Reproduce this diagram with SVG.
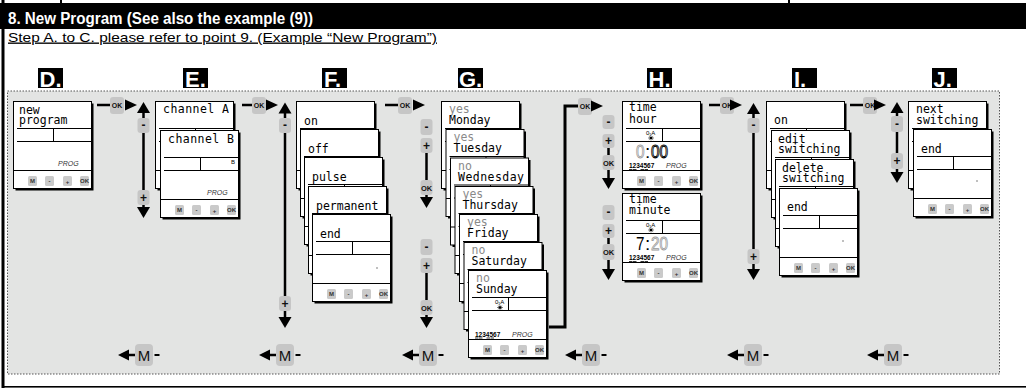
<svg xmlns="http://www.w3.org/2000/svg" xmlns:xlink="http://www.w3.org/1999/xlink" width="1026" height="388" viewBox="0 0 1026 388">
<style>
.lcd{font-family:"DejaVu Sans Mono",monospace;font-size:11.5px;fill:#000}
.gr{fill:#8a8a8a}
.ln{stroke:#000;stroke-width:1;fill:none}
.fb{fill:#c6c6c6}
.fbt{font-family:"Liberation Sans",Arial,sans-serif;font-weight:bold;text-anchor:middle;fill:#111}
.cb{fill:#cacaca}
.cbt{font-family:"Liberation Sans",Arial,sans-serif;font-size:6px;font-weight:bold;text-anchor:middle;fill:#333}
.w{stroke:#000;stroke-width:2.5;fill:none}
.prog{font-family:"Liberation Sans",Arial,sans-serif;font-style:italic;font-size:7px;fill:#333}
.lbl{font-family:"Liberation Sans",Arial,sans-serif;font-weight:bold;font-size:22px;fill:#fff}
.days{font-family:"Liberation Sans",Arial,sans-serif;font-size:6.5px;font-weight:bold;fill:#000}
.ico{font-family:"Liberation Sans","DejaVu Sans",sans-serif;font-size:6px;fill:#000}
.dig{font-family:"Liberation Sans",Arial,sans-serif;font-size:19px}
.mt{font-family:"Liberation Sans",Arial,sans-serif;font-size:15px;text-anchor:middle;fill:#111}
</style>
<defs>
<g id="card">
<rect x="2.5" y="2.5" width="78" height="87" fill="#000"/>
<rect x="0.5" y="0.5" width="78" height="87" fill="#fff" stroke="#000"/>
<path class="ln" d="M4,27.5H78.5M40.5,27.5V40.5M4,40.5H78.5M0.5,69.5H78.5"/>
<rect class="cb" x="15" y="75" width="9" height="10" rx="1.5"/>
<rect class="cb" x="32" y="75" width="9" height="10" rx="1.5"/>
<rect class="cb" x="50" y="75" width="9" height="10" rx="1.5"/>
<rect class="cb" x="67" y="75" width="9" height="10" rx="1.5"/>
<text class="cbt" x="19.5" y="82.3" font-weight="normal">M</text>
<text class="cbt" x="36.5" y="82">-</text>
<text class="cbt" x="54.5" y="82.5">+</text>
<text class="cbt" x="71.5" y="82" font-size="5">OK</text>
</g>
<path id="aR" d="M-12,-5.5L0,0L-12,5.5Z"/>
<path id="aU" d="M0,0L6.5,11L-6.5,11Z"/>
<path id="aD" d="M0,0L6.5,-11L-6.5,-11Z"/>
<path id="aL" d="M0,0L11,-5.5L11,5.5Z"/>
<g id="mback">
<use xlink:href="#aL"/>
<path d="M10,0H17" stroke="#000" stroke-width="2.5"/>
<rect class="fb" x="17" y="-11" width="18" height="22" rx="4"/>
<text class="mt" x="26" y="5.5">M</text>
<path d="M36.5,0H41.5" stroke="#000" stroke-width="2"/>
</g>
<g id="sun">
<circle cx="0" cy="0" r="1.3" fill="#000"/>
<path d="M-3,0H3M0,-2.5V2.5M-2.2,-1.8L2.2,1.8M-2.2,1.8L2.2,-1.8" stroke="#000" stroke-width="0.5"/>
</g>
<path id="dayul" d="M7,68H10.5M11,68H14.5M18.5,68H22M22.5,68H26" stroke="#000" stroke-width="0.8"/>
</defs>

<!-- page frame -->
<rect x="0" y="3" width="1026" height="26" fill="#000"/>
<rect x="60" y="0" width="2" height="3" fill="#000"/>
<rect x="788" y="0" width="2" height="3" fill="#000"/>
<rect x="1.5" y="0" width="3" height="388" fill="#000"/>
<rect x="2" y="386" width="1024" height="1.6" fill="#000"/>
<text x="8" y="24" font-family="Liberation Sans, Arial, sans-serif" font-weight="bold" font-size="16" fill="#fff" textLength="305" lengthAdjust="spacingAndGlyphs">8. New Program (See also the example (9))</text>
<text x="8" y="41.5" font-family="Liberation Sans, Arial, sans-serif" font-size="13.5" fill="#000" textLength="429" lengthAdjust="spacingAndGlyphs" text-decoration="underline">Step A. to C. please refer to point 9. (Example “New Program”)</text>

<!-- step labels -->
<g id="label-D"><rect x="38" y="68" width="25" height="20" fill="#000"/><text class="lbl" x="39.5" y="87">D.</text></g>
<g id="label-E"><rect x="183" y="68" width="25" height="20" fill="#000"/><text class="lbl" x="185" y="87">E.</text></g>
<g id="label-F"><rect x="322" y="68" width="25" height="20" fill="#000"/><text class="lbl" x="324" y="87">F.</text></g>
<g id="label-G"><rect x="458" y="68" width="25" height="20" fill="#000"/><text class="lbl" x="459" y="87">G.</text></g>
<g id="label-H"><rect x="647" y="68" width="25" height="20" fill="#000"/><text class="lbl" x="648.5" y="87">H.</text></g>
<g id="label-I"><rect x="792" y="68" width="25" height="20" fill="#000"/><text class="lbl" x="794" y="87">I.</text></g>
<g id="label-J"><rect x="932" y="68" width="25" height="20" fill="#000"/><text class="lbl" x="933.5" y="87">J.</text></g>

<!-- panel -->
<rect x="7.5" y="91" width="992" height="283" fill="#e3e4e3" stroke="#555" stroke-width="1" stroke-dasharray="1.5,1.5"/>

<!-- D -->
<g id="node-D" transform="translate(13,101)"><use xlink:href="#card"/>
<text class="lcd" x="6" y="13">new<tspan x="6" dy="10">program</tspan></text>
<text class="prog" x="45" y="65">PROG</text></g>

<!-- E -->
<g id="node-E-channelA" transform="translate(155,101)"><use xlink:href="#card"/>
<text class="lcd" x="8" y="12" textLength="66">channel A</text></g>
<g id="node-E-channelB" transform="translate(160,130)"><use xlink:href="#card"/>
<text class="lcd" x="8" y="13" textLength="66">channel B</text>
<text class="ico" x="71" y="34">B</text>
<text class="prog" x="47" y="65">PROG</text></g>

<!-- F -->
<g id="node-F-on" transform="translate(296,101)"><use xlink:href="#card"/><text class="lcd" x="8" y="24">on</text></g>
<g id="node-F-off" transform="translate(300,129)"><use xlink:href="#card"/><text class="lcd" x="8" y="24">off</text></g>
<g id="node-F-pulse" transform="translate(304,157)"><use xlink:href="#card"/><text class="lcd" x="8" y="24">pulse</text></g>
<g id="node-F-permanent" transform="translate(308,186)"><use xlink:href="#card"/><text class="lcd" x="8" y="24">permanent</text></g>
<g id="node-F-end" transform="translate(312,214)"><use xlink:href="#card"/><text class="lcd" x="8" y="24">end</text><rect x="64.5" y="53.5" width="1" height="1" fill="#000"/></g>

<!-- G -->
<g id="node-G-monday" transform="translate(441,101)"><use xlink:href="#card"/><text class="lcd" x="8" y="12"><tspan class="gr">yes</tspan><tspan x="8" dy="11">Monday</tspan></text></g>
<g id="node-G-tuesday" transform="translate(445.5,129)"><use xlink:href="#card"/><text class="lcd" x="8" y="12"><tspan class="gr">yes</tspan><tspan x="8" dy="11">Tuesday</tspan></text></g>
<g id="node-G-wednesday" transform="translate(450,157.5)"><use xlink:href="#card"/><text class="lcd" x="8" y="12"><tspan class="gr">no</tspan><tspan x="8" dy="11" textLength="66">Wednesday</tspan></text></g>
<g id="node-G-thursday" transform="translate(454.5,186)"><use xlink:href="#card"/><text class="lcd" x="8" y="12"><tspan class="gr">yes</tspan><tspan x="8" dy="11">Thursday</tspan></text></g>
<g id="node-G-friday" transform="translate(459,214)"><use xlink:href="#card"/><text class="lcd" x="8" y="12"><tspan class="gr">yes</tspan><tspan x="8" dy="11">Friday</tspan></text></g>
<g id="node-G-saturday" transform="translate(463.5,242)"><use xlink:href="#card"/><text class="lcd" x="8" y="12"><tspan class="gr">no</tspan><tspan x="8" dy="11">Saturday</tspan></text></g>
<g id="node-G-sunday" transform="translate(468,270)"><use xlink:href="#card"/><text class="lcd" x="8" y="12"><tspan class="gr">no</tspan><tspan x="8" dy="11">Sunday</tspan></text>
<text class="ico" x="27" y="34">0₁A</text>
<use xlink:href="#sun" x="32" y="37.5"/>
<text class="days" x="7" y="66.5">1234567</text><use xlink:href="#dayul" y="0"/>
<text class="prog" x="44" y="66.5">PROG</text></g>

<!-- H -->
<g id="node-H-hour" transform="translate(622,101)"><use xlink:href="#card"/>
<text class="lcd" x="7" y="10" font-size="12">time<tspan x="7" dy="12">hour</tspan></text>
<text class="ico" x="24" y="33.5">0₁A</text>
<use xlink:href="#sun" x="29" y="37"/>
<text class="dig" x="14" y="57" textLength="8.5" lengthAdjust="spacingAndGlyphs" fill="none" stroke="#999" stroke-width="0.9">0</text>
<text class="dig" x="23" y="57" fill="#000">:</text>
<text class="dig" x="29" y="57" textLength="17" lengthAdjust="spacingAndGlyphs" fill="none" stroke="#000" stroke-width="1">00</text>
<text class="days" x="7" y="67">1234567</text><use xlink:href="#dayul" y="0.5"/>
<text class="prog" x="44" y="67">PROG</text></g>
<g id="node-H-minute" transform="translate(622,193)"><use xlink:href="#card"/>
<text class="lcd" x="7" y="10" font-size="12">time<tspan x="7" dy="11">minute</tspan></text>
<text class="ico" x="24" y="33.5">0₁A</text>
<use xlink:href="#sun" x="29" y="37"/>
<text class="dig" x="14" y="57" textLength="8.5" lengthAdjust="spacingAndGlyphs" fill="#000">7</text>
<text class="dig" x="23" y="57" fill="#000">:</text>
<text class="dig" x="29" y="57" textLength="17" lengthAdjust="spacingAndGlyphs" fill="none" stroke="#999" stroke-width="0.9">20</text>
<text class="days" x="7" y="67">1234567</text><use xlink:href="#dayul" y="0.5"/>
<text class="prog" x="44" y="67">PROG</text></g>

<!-- I -->
<g id="node-I-on" transform="translate(766,101)"><use xlink:href="#card"/><text class="lcd" x="8" y="23">on</text></g>
<g id="node-I-edit" transform="translate(771,130)"><use xlink:href="#card"/><text class="lcd" x="7" y="13">edit<tspan x="7" dy="10">switching</tspan></text></g>
<g id="node-I-delete" transform="translate(775,159)"><use xlink:href="#card"/><text class="lcd" x="7" y="13">delete<tspan x="7" dy="10">switching</tspan></text></g>
<g id="node-I-end" transform="translate(779,188)"><use xlink:href="#card"/><text class="lcd" x="8" y="23">end</text><rect x="63.5" y="52.5" width="1" height="1" fill="#000"/></g>

<!-- J -->
<g id="node-J-next" transform="translate(908,101)"><use xlink:href="#card"/><text class="lcd" x="8" y="12">next<tspan x="8" dy="11">switching</tspan></text></g>
<g id="node-J-end" transform="translate(913,129)"><use xlink:href="#card"/><text class="lcd" x="8" y="24">end</text><rect x="63.5" y="51.5" width="1" height="1" fill="#000"/></g>

<!-- connectors -->
<g id="connectors">
<path class="w" d="M97,105H111"/>
<rect class="fb" x="110" y="97" width="14" height="17" rx="3"/><text class="fbt" x="117" y="108" font-size="7">OK</text>
<use xlink:href="#aR" x="137" y="105"/>
<path class="w" d="M143.5,112V208"/>
<use xlink:href="#aU" x="143.5" y="102"/>
<rect class="fb" x="137.5" y="118" width="12" height="15" rx="3"/><text class="fbt" x="143.5" y="129" font-size="12">-</text>
<rect class="fb" x="137.5" y="190" width="12" height="15" rx="3"/><text class="fbt" x="143.5" y="201.5" font-size="12">+</text>
<use xlink:href="#aD" x="143.5" y="218"/>
<path class="w" d="M242,105H253"/>
<rect class="fb" x="252" y="97" width="14" height="17" rx="3"/><text class="fbt" x="259" y="108" font-size="7">OK</text>
<use xlink:href="#aR" x="278" y="105"/>
<path class="w" d="M285,112V318"/>
<use xlink:href="#aU" x="285" y="102.5"/>
<rect class="fb" x="279" y="118" width="12" height="15" rx="3"/><text class="fbt" x="285" y="129" font-size="12">-</text>
<rect class="fb" x="279" y="296" width="12" height="15" rx="3"/><text class="fbt" x="285" y="307.5" font-size="12">+</text>
<use xlink:href="#aD" x="285" y="328"/>
<path class="w" d="M385,105H399"/>
<rect class="fb" x="398" y="97" width="14" height="17" rx="3"/><text class="fbt" x="405" y="108" font-size="7">OK</text>
<use xlink:href="#aR" x="425" y="105"/>
<path class="w" d="M426.5,150V198"/>
<rect class="fb" x="420.5" y="119" width="12" height="16" rx="3"/><text class="fbt" x="426.5" y="130.5" font-size="12">-</text>
<rect class="fb" x="420.5" y="138" width="12" height="15" rx="3"/><text class="fbt" x="426.5" y="149.5" font-size="12">+</text>
<rect class="fb" x="420.5" y="180" width="12" height="15" rx="3"/><text class="fbt" x="426.5" y="190.5" font-size="7.5">OK</text>
<use xlink:href="#aD" x="426.5" y="208"/>
<path class="w" d="M426.5,270V318"/>
<rect class="fb" x="420.5" y="239" width="12" height="16" rx="3"/><text class="fbt" x="426.5" y="250.5" font-size="12">-</text>
<rect class="fb" x="420.5" y="258" width="12" height="15" rx="3"/><text class="fbt" x="426.5" y="269.5" font-size="12">+</text>
<rect class="fb" x="420.5" y="300" width="12" height="15" rx="3"/><text class="fbt" x="426.5" y="310.5" font-size="7.5">OK</text>
<use xlink:href="#aD" x="426.5" y="328"/>
<path d="M549,327H565V106H579" stroke="#000" stroke-width="3" fill="none"/>
<rect class="fb" x="578" y="98" width="14" height="17" rx="3"/><text class="fbt" x="585" y="109" font-size="7">OK</text>
<use xlink:href="#aR" x="603" y="106"/>
<path class="w" d="M608.5,148V179"/>
<rect class="fb" x="602.5" y="115" width="12" height="14" rx="3"/><text class="fbt" x="608.5" y="126" font-size="12">-</text>
<rect class="fb" x="602.5" y="134" width="12" height="14" rx="3"/><text class="fbt" x="608.5" y="145" font-size="12">+</text>
<rect class="fb" x="602.5" y="155" width="12" height="15" rx="3"/><text class="fbt" x="608.5" y="165.5" font-size="7.5">OK</text>
<use xlink:href="#aD" x="608.5" y="189"/>
<path class="w" d="M608.5,237V269"/>
<rect class="fb" x="602.5" y="205" width="12" height="15" rx="3"/><text class="fbt" x="608.5" y="216" font-size="12">-</text>
<rect class="fb" x="602.5" y="224" width="12" height="14" rx="3"/><text class="fbt" x="608.5" y="235" font-size="12">+</text>
<rect class="fb" x="602.5" y="244" width="12" height="16" rx="3"/><text class="fbt" x="608.5" y="255" font-size="7.5">OK</text>
<use xlink:href="#aD" x="608.5" y="280"/>
<path class="w" d="M709,105H721"/>
<rect class="fb" x="720" y="97" width="14" height="17" rx="3"/><text class="fbt" x="727" y="108" font-size="7">OK</text>
<use xlink:href="#aR" x="742" y="105"/>
<path class="w" d="M753.5,112V270"/>
<use xlink:href="#aU" x="753.5" y="103"/>
<rect class="fb" x="747.5" y="118" width="12" height="15" rx="3"/><text class="fbt" x="753.5" y="129" font-size="12">-</text>
<rect class="fb" x="747.5" y="249" width="12" height="15" rx="3"/><text class="fbt" x="753.5" y="260.5" font-size="12">+</text>
<use xlink:href="#aD" x="753.5" y="280"/>
<path class="w" d="M850,105H864"/>
<rect class="fb" x="863" y="97" width="14" height="17" rx="3"/><text class="fbt" x="870" y="108" font-size="7">OK</text>
<use xlink:href="#aR" x="886" y="105"/>
<path class="w" d="M897,112V174"/>
<use xlink:href="#aU" x="897" y="102"/>
<rect class="fb" x="891" y="116" width="12" height="16" rx="3"/><text class="fbt" x="897" y="127.5" font-size="12">-</text>
<rect class="fb" x="891" y="153" width="12" height="16" rx="3"/><text class="fbt" x="897" y="165" font-size="12">+</text>
<use xlink:href="#aD" x="897" y="183"/>
<use xlink:href="#mback" x="118" y="355"/>
<use xlink:href="#mback" x="259" y="355"/>
<use xlink:href="#mback" x="402" y="355"/>
<use xlink:href="#mback" x="565" y="355"/>
<use xlink:href="#mback" x="727" y="355"/>
<use xlink:href="#mback" x="867" y="355"/>
</g>
</svg>
